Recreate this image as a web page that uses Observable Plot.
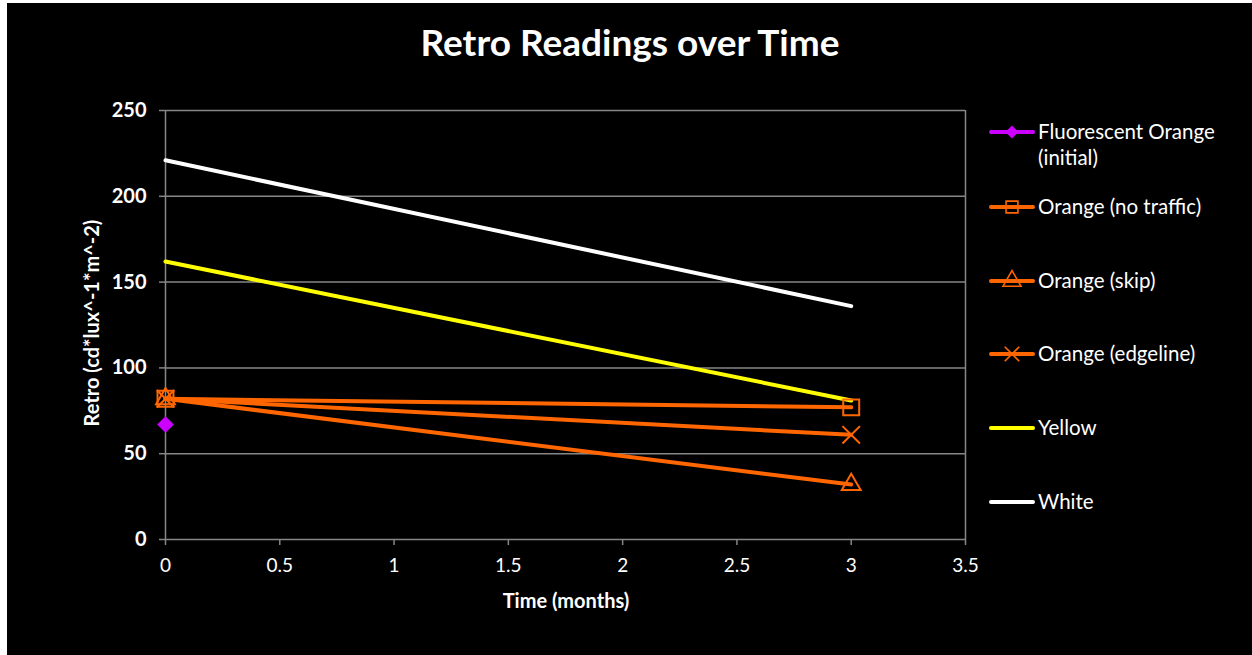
<!DOCTYPE html>
<html>
<head>
<meta charset="utf-8">
<script src="https://cdn.jsdelivr.net/npm/d3@7"></script>
<script src="https://cdn.jsdelivr.net/npm/@observablehq/plot@0.6"></script>
<style>
  html, body { margin: 0; padding: 0; background: #ffffff; width: 1252px; height: 655px; overflow: hidden; }
  #panel { position: absolute; left: 7px; top: 3px; width: 1245px; height: 652px; background: #000; }
  .abs { position: absolute; color: #fff; font-family: Lato, "Open Sans", sans-serif; white-space: nowrap; }
  #title { left: 0; width: 1260px; top: 19px; text-align: center; font-size: 37px; font-weight: bold; }
  #xlabel { left: 466px; width: 200px; top: 588px; text-align: center; font-size: 20px; font-weight: bold; }
  #ylabel { left: 91px; top: 323px; font-size: 20px; font-weight: bold; transform: translate(-50%, -50%) rotate(-90deg); }
  #chart { position: absolute; left: 7px; top: 63px; }
  #legend { position: absolute; left: 0; top: 0; }
</style>
</head>
<body>
<div id="panel"></div>
<div id="chart"></div>
<div id="title" class="abs">Retro Readings over Time</div>
<div id="xlabel" class="abs">Time (months)</div>
<div id="ylabel" class="abs">Retro (cd*lux^-1*m^-2)</div>
<svg id="legend" width="1252" height="655"></svg>
<script>
// ---- data ----
const months = [0, 3];
const fluorescentInitial = [67];          // at month 0 only
const orangeNoTraffic = [82, 77];
const orangeSkip = [82, 32];
const orangeEdgeline = [82, 61];
const yellow = [162, 81];
const white = [221, 136];

const xTicks = [0, 0.5, 1, 1.5, 2, 2.5, 3, 3.5];
const yTicks = [0, 50, 100, 150, 200, 250];

const seriesNames = ["Fluorescent Orange (initial)", "Orange (no traffic)", "Orange (skip)", "Orange (edgeline)", "Yellow", "White"];

const ORANGE = "#ff6600", MAGENTA = "#cc00ff", YELLOW = "#ffff00", WHITE = "#ffffff", GRID = "#868686";

const rows = (vals) => vals.map((v, i) => ({x: months[i], y: v}));

const chart = Plot.plot({
  width: 1000,
  height: 560,
  marginLeft: 158,
  marginRight: 42,
  marginTop: 47,
  marginBottom: 84,
  style: {background: "black", color: "white", fontFamily: "Lato, 'Open Sans', sans-serif", overflow: "visible"},
  x: {domain: [0, 3.5]},
  y: {domain: [0, 250]},
  marks: [
    Plot.gridY(yTicks.slice(1), {stroke: GRID, strokeOpacity: 1, strokeWidth: 1.5}),
    Plot.ruleX([3.5], {stroke: GRID, strokeWidth: 1.5}),
    Plot.ruleX([0], {stroke: GRID, strokeWidth: 1.5}),
    Plot.ruleY([0], {stroke: GRID, strokeWidth: 1.5}),
    Plot.axisY({ticks: yTicks, tickSize: 6, tickPadding: 13, stroke: GRID, strokeWidth: 1.5, fill: "white", fontSize: 20, fontWeight: "bold", label: null}),
    Plot.axisX({ticks: xTicks, tickSize: 6, tickPadding: 13, stroke: GRID, strokeWidth: 1.5, fill: "white", fontSize: 19, tickFormat: d => String(d), label: null}),
    Plot.line(rows(white), {x: "x", y: "y", stroke: WHITE, strokeWidth: 4}),
    Plot.line(rows(yellow), {x: "x", y: "y", stroke: YELLOW, strokeWidth: 4}),
    Plot.line(rows(orangeSkip), {x: "x", y: "y", stroke: ORANGE, strokeWidth: 4}),
    Plot.line(rows(orangeEdgeline), {x: "x", y: "y", stroke: ORANGE, strokeWidth: 4}),
    Plot.line(rows(orangeNoTraffic), {x: "x", y: "y", stroke: ORANGE, strokeWidth: 4}),
    Plot.dot(rows(orangeSkip), {x: "x", y: "y", symbol: "triangle", r: 7, stroke: ORANGE, strokeWidth: 2, fill: "none"}),
    Plot.dot(rows(orangeEdgeline), {x: "x", y: "y", symbol: "times", r: 8, stroke: ORANGE, strokeWidth: 2, fill: "none"}),
    Plot.dot(rows(orangeNoTraffic), {x: "x", y: "y", symbol: "square", r: 9, stroke: ORANGE, strokeWidth: 2, fill: "none"}),
    Plot.dot(rows(fluorescentInitial), {x: "x", y: "y", symbol: "diamond2", r: 7.5, fill: MAGENTA, stroke: "none"})
  ]
});
document.getElementById("chart").appendChild(chart);

// ---- legend ----
const legendItems = [
  {name: seriesNames[0], lines: ["Fluorescent Orange", "(initial)"], color: MAGENTA, symbol: d3.symbolDiamond2, filled: true, y: 132},
  {name: seriesNames[1], lines: ["Orange (no traffic)"], color: ORANGE, symbol: d3.symbolSquare, y: 207},
  {name: seriesNames[2], lines: ["Orange (skip)"], color: ORANGE, symbol: d3.symbolTriangle, y: 281},
  {name: seriesNames[3], lines: ["Orange (edgeline)"], color: ORANGE, symbol: d3.symbolTimes, y: 354},
  {name: seriesNames[4], lines: ["Yellow"], color: YELLOW, symbol: null, y: 428},
  {name: seriesNames[5], lines: ["White"], color: WHITE, symbol: null, y: 502}
];
const lg = d3.select("#legend");
legendItems.forEach(it => {
  const g = lg.append("g");
  g.append("line").attr("x1", 991).attr("x2", 1033).attr("y1", it.y).attr("y2", it.y)
    .attr("stroke", it.color).attr("stroke-width", 4).attr("stroke-linecap", "round");
  if (it.symbol) {
    g.append("path").attr("transform", `translate(1012,${it.y})`)
      .attr("d", d3.symbol(it.symbol, it.filled ? 110 : 140)())
      .attr("fill", it.filled ? it.color : "none")
      .attr("stroke", it.filled ? "none" : it.color).attr("stroke-width", 1.6);
  }
  it.lines.forEach((t, i) => {
    g.append("text").attr("x", 1038).attr("y", it.y + i * 26).attr("dy", "0.35em")
      .attr("fill", "white").attr("font-family", "Lato, 'Open Sans', sans-serif").attr("font-size", 20.5).text(t);
  });
});
</script>
</body>
</html>
